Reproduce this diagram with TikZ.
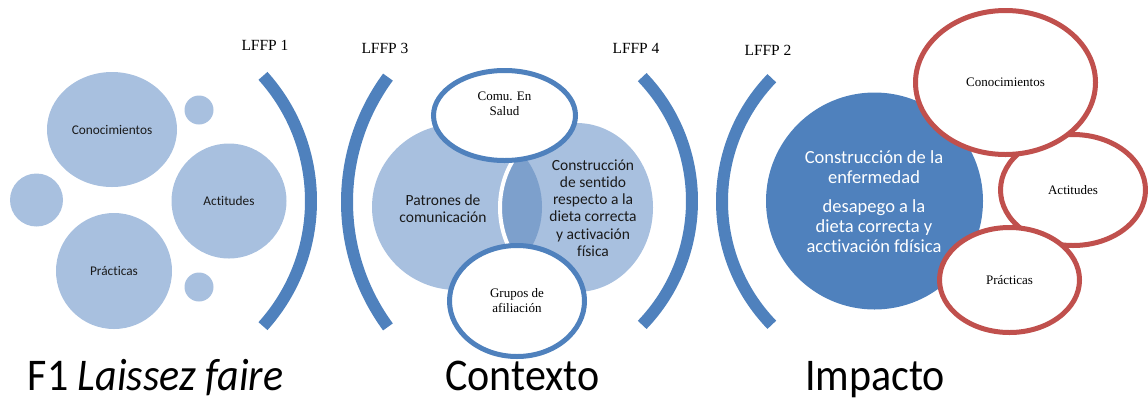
\documentclass[tikz,border=0pt]{standalone}
\usepackage{fontspec}
\setmainfont{Carlito}[Ligatures=NoCommon]
\newfontfamily\timesfont{Liberation Serif}
\usetikzlibrary{shapes.geometric}
\definecolor{lightb}{HTML}{A8C0DF}
\definecolor{darkov}{HTML}{7DA0CC}
\definecolor{accb}{HTML}{4F81BD}
\definecolor{accr}{HTML}{C0504D}
\definecolor{txt}{HTML}{1A1A1A}
\begin{document}
\begin{tikzpicture}[x=1pt,y=-1pt,
  bub/.style={circle,fill=lightb,inner sep=0pt,text=txt,font=\fontsize{13.3}{15}\selectfont},
  venn/.style={ellipse,fill=lightb,inner sep=0pt},
  bluell/.style={ellipse,draw=accb,line width=5pt,fill=white,inner sep=0pt,align=center,font=\timesfont\fontsize{13}{15}\selectfont},
  redell/.style={ellipse,draw=accr,line width=5pt,fill=white,inner sep=0pt,align=center,font=\timesfont\fontsize{13}{15}\selectfont},
  bracket/.style={draw=accb,line width=12pt},
  lffp/.style={font=\timesfont\fontsize{15.5}{18}\selectfont},
  vtext/.style={align=center,text=txt,font=\fontsize{15.5}{17.3}\selectfont},
  bottom/.style={font=\fontsize{42}{46}\selectfont,anchor=base,text=black,inner sep=0pt,outer sep=0pt}]
\useasboundingbox (0,0) rectangle (1148,400);

% ---------- left group ----------
\node[bub,ellipse,minimum width=130pt,minimum height=115pt] (kno1) at (112,129.5) {Conocimientos};
\node[bub,minimum size=29pt] (s1) at (199,110) {};
\node[bub,minimum size=53pt] (s2) at (36.5,200) {};
\node[bub,minimum size=115pt] (act1) at (229,201) {Actitudes};
\node[bub,minimum size=116pt] (pra1) at (114,271) {Prácticas};
\node[bub,minimum size=29pt] (s3) at (199,287) {};

\draw[bracket] (124,201) ++(-42:187) arc[start angle=-42,end angle=42,radius=187];
\node[lffp] (l1) at (265,45) {LFFP 1};

% ---------- middle group ----------
\node[venn,minimum width=170pt,minimum height=166pt] (vl) at (457,207) {};
\node[venn,minimum width=153pt,minimum height=169pt] (vr) at (576.5,207.5) {};
\begin{scope}
  \clip (457,207) ellipse[x radius=85,y radius=83];
  \fill[darkov] (576.5,207.5) ellipse[x radius=76.5,y radius=84.5];
\end{scope}
\begin{scope}
  \clip (457,207) ellipse[x radius=85,y radius=83];
  \draw[white,line width=4pt] (576.5,207.5) ellipse[x radius=76.5,y radius=84.5];
\end{scope}
\node[vtext] (pat) at (443,208.5) {Patrones de\\comunicación};
\node[vtext] (con) at (593,208) {Construcción\\de sentido\\respecto a la\\dieta correcta\\y activación\\física};

\draw[bracket] (558,202) ++(180-36.3:211) arc[start angle=180-36.3,end angle=180+36.3,radius=211];
\draw[bracket] (513,201) ++(-43.8:179) arc[start angle=-43.8,end angle=43.8,radius=179];
\node[lffp] (l3) at (385,48) {LFFP 3};
\node[lffp] (l4) at (636,48) {LFFP 4};

\node[bluell,minimum width=142pt,minimum height=90pt] (comu) at (504.5,115.5) {};
\node[align=center,font=\timesfont\fontsize{13}{15}\selectfont] (comut) at (504.5,104) {Comu. En\\Salud};
\node[bluell,minimum width=135pt,minimum height=111pt] (gru) at (517,301) {Grupos de\\afiliación};

% ---------- right group ----------
\draw[bracket] (899.5,201.5) ++(180-44:177.5) arc[start angle=180-44,end angle=180+44,radius=177.5];
\node[lffp] (l2) at (768,50) {LFFP 2};

\node[circle,fill=accb,minimum size=217pt,inner sep=0pt] (big) at (874.5,201) {};
\node[align=center,text=white,font=\fontsize{18.5}{20}\selectfont] (bigt) at (874,201.5)
  {Construcción de la\\enfermedad\\[9pt]desapego a la\\dieta correcta y\\acctivación fdísica};

\node[redell,minimum width=145pt,minimum height=111pt] (act2) at (1073,190) {Actitudes};
\node[redell,minimum width=180pt,minimum height=144pt] (kno2) at (1005.5,82.5) {Conocimientos};
\node[redell,minimum width=140pt,minimum height=105pt] (pra2) at (1009.5,280) {Prácticas};

% ---------- bottom labels ----------
\node[bottom] (f1) at (155.5,390) {\scalebox{1}[1.08]{F1 \textit{Laissez faire}}};
\node[bottom] (ctx) at (522.5,390) {\scalebox{1}[1.08]{Contexto}};
\node[bottom] (imp) at (875,390) {\scalebox{1}[1.08]{Impacto}};
\end{tikzpicture}
\end{document}
